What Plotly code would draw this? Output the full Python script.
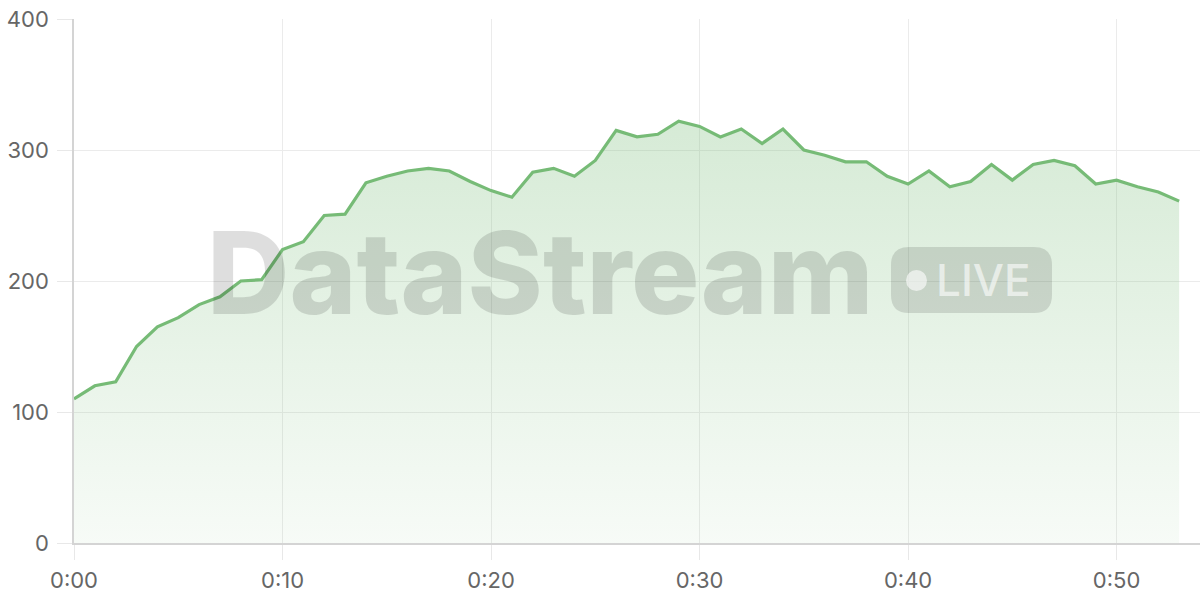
import plotly.graph_objects as go

# one reading per minute, 0:00 .. 0:53
minutes = list(range(54))
values = [110, 120, 123, 150, 165, 172, 182, 188, 200, 201,
          224, 230, 250, 251, 275, 280, 284, 286, 284, 276,
          269, 264, 283, 286, 280, 292, 315, 310, 312, 322,
          318, 310, 316, 305, 316, 300, 296, 291, 291, 280,
          274, 284, 272, 276, 289, 277, 289, 292, 288, 274,
          277, 272, 268, 261]

tick_minutes = [0, 10, 20, 30, 40, 50]
tick_labels = ["0:00", "0:10", "0:20", "0:30", "0:40", "0:50"]
y_ticks = [0, 100, 200, 300, 400]

green = "118,187,118"
W, H = 1200, 600
ml, mr, mt, mb = 74, 0, 19, 57
pw, ph = W - ml - mr, H - mt - mb


def px(x):
    # page pixel -> paper x
    return (x - ml) / pw


def py(y):
    # page pixel -> paper y
    return (H - mb - y) / ph


fig = go.Figure()

fig.add_trace(go.Scatter(
    x=minutes,
    y=values,
    mode="lines",
    line=dict(color=f"rgb({green})", width=3.2),
    fill="tozeroy",
    fillgradient=dict(
        type="vertical",
        start=0,
        stop=max(values),
        colorscale=[[0, f"rgba({green},0.06)"], [1, f"rgba({green},0.3)"]],
    ),
    hoverinfo="skip",
    showlegend=False,
))

# watermark
fig.add_annotation(
    text="DataStream", xref="paper", yref="paper",
    x=px(540), y=py(272), showarrow=False,
    font=dict(family="Inter", size=114, weight=800, color="rgba(0,0,0,0.13)"),
    xanchor="center", yanchor="middle",
)

# LIVE badge, rounded rect
x0, x1, y0, y1, r = px(891), px(1052), py(313), py(247), 18
rx, ry = r / pw, r / ph
path = (f"M {x0+rx},{y0} L {x1-rx},{y0} Q {x1},{y0} {x1},{y0+ry} "
        f"L {x1},{y1-ry} Q {x1},{y1} {x1-rx},{y1} L {x0+rx},{y1} "
        f"Q {x0},{y1} {x0},{y1-ry} L {x0},{y0+ry} Q {x0},{y0} {x0+rx},{y0} Z")
fig.add_shape(type="path", path=path, xref="paper", yref="paper",
              fillcolor="rgba(0,0,0,0.12)", line=dict(width=0), layer="above")
fig.add_shape(type="circle", xref="paper", yref="paper",
              x0=px(906), x1=px(927), y0=py(291), y1=py(270),
              fillcolor="rgba(255,255,255,0.6)", line=dict(width=0), layer="above")
fig.add_annotation(
    text="LIVE", xref="paper", yref="paper",
    x=px(983), y=py(280), showarrow=False,
    font=dict(family="Inter", size=44, weight=500, color="rgba(255,255,255,0.6)"),
    xanchor="center", yanchor="middle",
)

axis_font = dict(family="Inter", size=22, color="#666666")

fig.update_xaxes(
    range=[0, 54],
    tickvals=tick_minutes, ticktext=tick_labels,
    showgrid=True, gridcolor="#ebebeb", gridwidth=1,
    showline=True, linecolor="#d4d4d4", linewidth=1.5,
    ticks="outside", ticklen=15, tickcolor="#e8e8e8",
    tickfont=axis_font, ticklabelstandoff=2,
    zeroline=False,
)
fig.update_yaxes(
    range=[0, 400],
    tickvals=y_ticks,
    showgrid=True, gridcolor="#ebebeb", gridwidth=1,
    showline=True, linecolor="#d4d4d4", linewidth=1.5,
    ticks="outside", ticklen=15, tickcolor="#e8e8e8",
    tickfont=axis_font, ticklabelstandoff=4,
    zeroline=False,
)

fig.update_layout(
    width=W, height=H,
    margin=dict(l=ml, r=mr, t=mt, b=mb),
    paper_bgcolor="white", plot_bgcolor="white",
)

# drop the default page margin so the figure sits at the window origin
fig.write_html("out.html", config={"displayModeBar": False},
               post_script="document.body.style.margin='0';")
